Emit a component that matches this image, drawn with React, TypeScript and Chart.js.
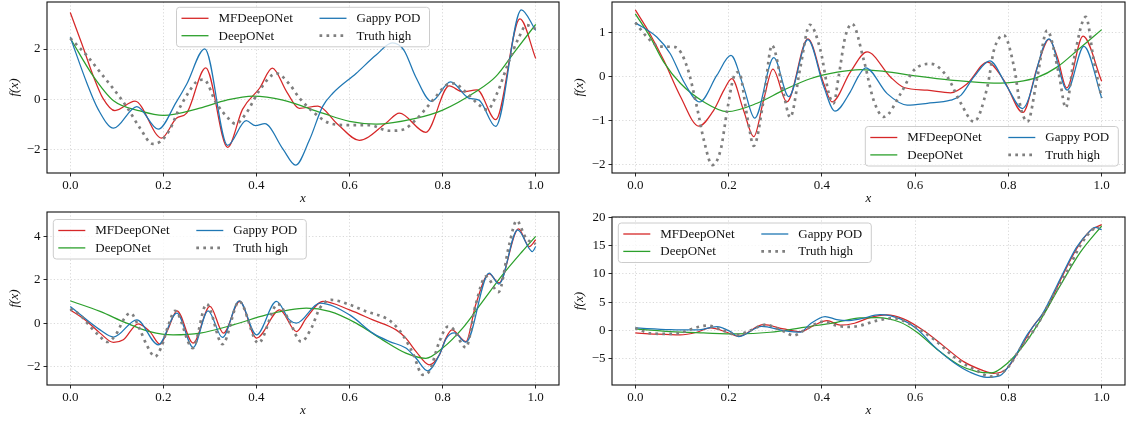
import React, { useEffect, useRef } from 'react';
import { Chart, registerables } from 'chart.js';

Chart.register(...registerables);

// ---------- data (x, f(x)) ----------
const xTickValues = [0, 0.2, 0.4, 0.6, 0.8, 1.0];
const seriesLabels = ['MFDeepONet', 'DeepONet', 'Gappy POD', 'Truth high'];

// Panel 1 (top-left)
const p1Mf = [[0,3.45],[0.025,2.2],[0.05,0.9],[0.07,0.05],[0.096,-0.45],[0.139,-0.07],[0.196,-1.54],[0.228,-0.75],[0.25,-0.55],[0.291,1.25],[0.338,-1.91],[0.37,-0.4],[0.407,0.45],[0.434,1.24],[0.465,0.3],[0.492,-0.36],[0.532,-0.27],[0.575,-1.0],[0.621,-1.63],[0.678,-0.95],[0.707,-0.55],[0.764,-1.31],[0.814,0.53],[0.843,0.3],[0.874,0.38],[0.914,-0.81],[0.966,3.2],[1.0,1.62]];
const p1Deep = [[0,2.43],[0.05,0.9],[0.093,-0.06],[0.15,-0.46],[0.2,-0.64],[0.278,-0.35],[0.336,-0.03],[0.393,0.13],[0.457,-0.03],[0.542,-0.55],[0.6,-0.88],[0.657,-0.99],[0.742,-0.76],[0.8,-0.43],[0.871,0.3],[0.914,0.9],[0.957,1.95],[1.0,2.98]];
const p1Gappy = [[0,2.47],[0.036,0.63],[0.06,-0.4],[0.093,-1.15],[0.143,-0.29],[0.189,-1.19],[0.228,-0.1],[0.25,0.6],[0.289,2.01],[0.338,-1.83],[0.378,-0.85],[0.398,-1.05],[0.418,-0.97],[0.457,-1.98],[0.484,-2.62],[0.514,-1.61],[0.542,-0.29],[0.564,0.24],[0.614,1.03],[0.657,1.76],[0.692,2.24],[0.717,1.95],[0.742,0.9],[0.776,-0.08],[0.817,0.69],[0.857,0.04],[0.878,-0.03],[0.914,-1.08],[0.969,3.56],[1.0,2.74]];
const p1Truth = [[0,2.43],[0.036,1.73],[0.064,1.08],[0.093,0.41],[0.121,-0.29],[0.15,-1.15],[0.177,-1.77],[0.193,-1.68],[0.214,-1.2],[0.232,-0.45],[0.255,0.3],[0.271,0.7],[0.287,0.78],[0.314,-0.16],[0.343,-0.82],[0.355,-0.98],[0.378,-0.55],[0.407,0.37],[0.443,1.03],[0.471,0.6],[0.492,0.06],[0.528,-0.6],[0.557,-0.95],[0.6,-1.03],[0.643,-1.03],[0.685,-1.25],[0.714,-1.21],[0.742,-0.82],[0.764,-0.37],[0.785,0.1],[0.807,0.55],[0.824,0.63],[0.849,0.3],[0.878,-0.22],[0.896,-0.42],[0.917,0.24],[0.942,1.49],[0.964,2.47],[0.98,2.95],[1.0,2.8]];

// Panel 2 (top-right)
const p2Mf = [[0,1.52],[0.03,1.0],[0.061,0.37],[0.097,-0.46],[0.136,-1.13],[0.168,-0.77],[0.19,-0.31],[0.207,-0.05],[0.232,-0.77],[0.254,-1.37],[0.275,-0.54],[0.295,0.17],[0.325,-0.58],[0.37,0.86],[0.404,-0.16],[0.422,-0.58],[0.461,0.1],[0.497,0.56],[0.547,-0.01],[0.576,-0.25],[0.626,-0.31],[0.676,-0.37],[0.712,-0.16],[0.755,0.33],[0.79,-0.08],[0.831,-0.82],[0.862,0.22],[0.887,0.85],[0.905,0.44],[0.925,-0.26],[0.96,0.92],[1.0,-0.11]];
const p2Deep = [[0,1.43],[0.032,0.9],[0.061,0.33],[0.097,-0.16],[0.147,-0.58],[0.197,-0.8],[0.261,-0.61],[0.318,-0.31],[0.375,-0.05],[0.433,0.1],[0.483,0.16],[0.533,0.12],[0.605,0.01],[0.676,-0.08],[0.769,-0.15],[0.819,-0.12],[0.862,-0.02],[0.905,0.22],[0.948,0.6],[1.0,1.07]];
const p2Gappy = [[0,1.23],[0.046,0.9],[0.075,0.52],[0.104,-0.12],[0.138,-0.58],[0.175,0.03],[0.205,0.48],[0.232,-0.23],[0.256,-0.95],[0.297,0.43],[0.329,-0.46],[0.37,0.84],[0.404,-0.23],[0.428,-0.79],[0.461,-0.35],[0.478,0.0],[0.494,0.2],[0.54,-0.39],[0.583,-0.65],[0.626,-0.61],[0.676,-0.54],[0.698,-0.43],[0.726,-0.01],[0.76,0.36],[0.797,-0.23],[0.83,-0.73],[0.887,0.86],[0.926,-0.31],[0.962,0.69],[1.0,-0.49]];
const p2Truth = [[0,1.23],[0.025,0.9],[0.046,0.71],[0.068,0.68],[0.086,0.67],[0.111,0.22],[0.132,-0.69],[0.147,-1.45],[0.165,-2.02],[0.183,-1.67],[0.197,-0.77],[0.211,-0.01],[0.222,0.1],[0.24,-0.92],[0.254,-1.58],[0.275,-0.54],[0.293,0.71],[0.318,-0.39],[0.332,-0.93],[0.354,0.22],[0.374,1.18],[0.397,0.6],[0.415,-0.39],[0.425,-0.61],[0.436,0.0],[0.45,0.9],[0.465,1.2],[0.49,0.37],[0.511,-0.54],[0.533,-0.92],[0.569,-0.39],[0.597,0.14],[0.633,0.29],[0.669,-0.01],[0.698,-0.61],[0.726,-1.03],[0.755,-0.23],[0.769,0.6],[0.79,0.94],[0.812,0.22],[0.826,-0.69],[0.841,-1.03],[0.862,-0.01],[0.883,1.05],[0.908,0.07],[0.923,-0.71],[0.94,0.37],[0.966,1.36],[0.983,0.37],[1.0,-0.49]];

// Panel 3 (bottom-left)
const p3Mf = [[0,0.61],[0.036,0.08],[0.064,-0.46],[0.093,-0.89],[0.114,-0.77],[0.146,-0.03],[0.171,-0.39],[0.193,-0.97],[0.211,-0.23],[0.229,0.57],[0.264,-0.92],[0.3,0.77],[0.329,-0.46],[0.364,1.0],[0.4,-0.69],[0.45,0.61],[0.486,-0.39],[0.507,0.23],[0.543,1.0],[0.6,0.61],[0.65,0.15],[0.7,-0.31],[0.721,-0.69],[0.743,-1.31],[0.771,-1.92],[0.793,-1.46],[0.807,-0.69],[0.82,-0.31],[0.85,-0.85],[0.871,0.85],[0.9,2.27],[0.921,1.85],[0.963,4.34],[0.986,3.53],[1.0,3.84]];
const p3Deep = [[0,1.03],[0.064,0.54],[0.121,0.0],[0.171,-0.39],[0.221,-0.54],[0.279,-0.46],[0.35,-0.08],[0.421,0.38],[0.471,0.61],[0.507,0.69],[0.557,0.54],[0.614,0.0],[0.671,-0.77],[0.721,-1.38],[0.764,-1.62],[0.8,-1.15],[0.843,-0.23],[0.886,1.0],[0.929,2.23],[0.971,3.3],[1.0,4.0]];
const p3Gappy = [[0,0.77],[0.064,-0.31],[0.093,-0.64],[0.143,0.15],[0.189,-1.0],[0.229,0.46],[0.264,-1.12],[0.296,0.57],[0.327,-0.66],[0.363,1.03],[0.4,-0.54],[0.443,1.0],[0.471,0.15],[0.486,0.0],[0.536,0.92],[0.6,0.38],[0.65,-0.46],[0.686,-0.85],[0.721,-1.15],[0.743,-1.62],[0.768,-2.2],[0.793,-1.46],[0.808,-0.7],[0.825,-0.45],[0.85,-0.88],[0.9,2.3],[0.921,1.8],[0.961,4.3],[0.993,3.3],[1.0,3.53]];
const p3Truth = [[0,0.66],[0.021,0.38],[0.043,-0.16],[0.064,-0.62],[0.079,-0.87],[0.1,-0.46],[0.114,0.15],[0.129,0.46],[0.15,-0.31],[0.164,-1.0],[0.182,-1.54],[0.196,-1.08],[0.211,-0.08],[0.225,0.57],[0.263,-1.15],[0.293,0.88],[0.327,-0.97],[0.363,1.0],[0.404,-0.92],[0.446,0.88],[0.471,0.08],[0.496,-0.85],[0.518,-0.23],[0.536,0.69],[0.561,1.07],[0.6,0.85],[0.636,0.54],[0.678,0.23],[0.693,0.0],[0.714,-0.54],[0.736,-1.38],[0.757,-2.38],[0.771,-2.23],[0.793,-0.85],[0.811,-0.16],[0.821,-0.23],[0.85,-1.12],[0.871,0.85],[0.893,2.15],[0.92,1.43],[0.943,3.61],[0.959,4.72],[0.979,3.92],[1.0,3.64]];

// Panel 4 (bottom-right)
const p4Mf = [[0,-0.41],[0.04,-0.6],[0.096,-0.76],[0.132,-0.29],[0.161,0.47],[0.196,-0.29],[0.221,-1.0],[0.275,1.06],[0.318,0.29],[0.354,-0.18],[0.382,0.88],[0.411,1.76],[0.44,0.95],[0.47,1.3],[0.503,2.3],[0.539,2.76],[0.575,2.06],[0.618,0.0],[0.66,-2.65],[0.704,-5.47],[0.746,-7.05],[0.768,-7.53],[0.796,-6.76],[0.825,-3.23],[0.854,0.88],[0.882,3.82],[0.911,8.82],[0.946,14.4],[0.975,17.6],[1.0,18.7]];
const p4Deep = [[0,0.29],[0.075,-0.18],[0.146,-0.41],[0.218,-0.59],[0.289,-0.29],[0.361,0.59],[0.432,1.47],[0.482,2.23],[0.518,2.3],[0.568,1.47],[0.604,-0.29],[0.646,-3.23],[0.696,-6.17],[0.732,-7.23],[0.764,-7.47],[0.796,-5.88],[0.832,-2.65],[0.868,1.76],[0.911,7.94],[0.954,13.8],[1.0,18.5]];
const p4Gappy = [[0,0.47],[0.075,0.18],[0.132,0.12],[0.175,0.7],[0.204,-0.18],[0.221,-1.06],[0.271,0.76],[0.318,0.0],[0.354,-0.29],[0.375,1.18],[0.407,2.47],[0.432,1.94],[0.454,1.76],[0.482,2.06],[0.525,2.82],[0.568,2.06],[0.604,0.29],[0.639,-2.65],[0.682,-5.59],[0.718,-7.35],[0.754,-8.24],[0.782,-7.94],[0.811,-5.0],[0.839,-0.88],[0.875,3.23],[0.911,9.1],[0.946,14.7],[0.975,17.6],[0.986,18.2],[1.0,17.8]];
const p4Truth = [[0,0.47],[0.032,-0.47],[0.068,-0.59],[0.096,-0.41],[0.125,0.41],[0.154,0.88],[0.189,0.0],[0.218,-0.76],[0.246,0.0],[0.279,1.06],[0.307,0.29],[0.325,-0.41],[0.339,-0.88],[0.361,0.0],[0.386,1.18],[0.404,1.59],[0.432,0.88],[0.461,0.65],[0.482,0.88],[0.518,1.76],[0.554,2.18],[0.589,1.18],[0.639,-1.47],[0.689,-5.0],[0.732,-7.05],[0.761,-8.1],[0.796,-6.76],[0.825,-3.23],[0.861,0.88],[0.896,6.17],[0.925,10.3],[0.954,15.0],[0.982,17.9],[0.995,18.2]];

const p1YTicks = [-2, 0, 2];
const p2YTicks = [-2, -1, 0, 1];
const p3YTicks = [-2, 0, 2, 4];
const p4YTicks = [-5, 0, 5, 10, 15, 20];

// ---------- styling ----------
const RED = '#d62728';
const GREEN = '#2ca02c';
const BLUE = '#1f77b4';
const GRAY = '#7f7f7f';
const FONT = 'Liberation Serif';
const TEXT = '#111111';

type PanelDef = {
  left: number; top: number; w: number; h: number;
  padTop: number; padRight: number; hx: number;
  ymin: number; ymax: number; yticks: number[];
  mf: number[][]; deep: number[][]; gappy: number[][]; truth: number[][];
  legend: { loc: 'uc' | 'lr' | 'ul'; dx: number; dy: number };
};

const panels: PanelDef[] = [
  { left: 0, top: 0, w: 563, h: 206, padTop: 2, padRight: 4, hx: 33, ymin: -2.93, ymax: 3.87, yticks: p1YTicks,
    mf: p1Mf, deep: p1Deep, gappy: p1Gappy, truth: p1Truth, legend: { loc: 'uc', dx: 0, dy: 5.3 } },
  { left: 565, top: 0, w: 561, h: 206, padTop: 2, padRight: 1, hx: 33, ymin: -2.2, ymax: 1.7, yticks: p2YTicks,
    mf: p2Mf, deep: p2Deep, gappy: p2Gappy, truth: p2Truth, legend: { loc: 'lr', dx: 6.7, dy: 7 } },
  { left: 0, top: 205, w: 563, h: 213, padTop: 7, padRight: 4, hx: 33, ymin: -2.85, ymax: 5.12, yticks: p3YTicks,
    mf: p3Mf, deep: p3Deep, gappy: p3Gappy, truth: p3Truth, legend: { loc: 'ul', dx: 6.3, dy: 7.5 } },
  { left: 565, top: 205, w: 561, h: 213, padTop: 12, padRight: 1, hx: 33, ymin: -9.6, ymax: 20.05, yticks: p4YTicks,
    mf: p4Mf, deep: p4Deep, gappy: p4Gappy, truth: p4Truth, legend: { loc: 'ul', dx: 6.3, dy: 6 } },
];

const fmtMinus = (v: number) => (v < 0 ? '\u2212' + String(Math.abs(v)) : String(v));

const legendEntries = [
  { label: seriesLabels[0], color: RED, lw: 1.3, dash: [] as number[], col: 0, row: 0 },
  { label: seriesLabels[1], color: GREEN, lw: 1.3, dash: [] as number[], col: 0, row: 1 },
  { label: seriesLabels[2], color: BLUE, lw: 1.3, dash: [] as number[], col: 1, row: 0 },
  { label: seriesLabels[3], color: GRAY, lw: 2.7, dash: [2.7, 4.3], col: 1, row: 1 },
];

const framePlugin = {
  id: 'frame',
  afterDatasetsDraw(chart: any) {
    const { ctx, chartArea: a } = chart;
    ctx.save();
    ctx.strokeStyle = '#111';
    ctx.lineWidth = 1.1;
    ctx.strokeRect(a.left, a.top, a.right - a.left, a.bottom - a.top);
    ctx.restore();
  },
};

const legendPlugin = {
  id: 'mplLegend',
  afterDraw(chart: any, _args: any, opts: any) {
    const { ctx, chartArea: a } = chart;
    const w = 253, h = 39.5;
    let bx = 0, by = 0;
    if (opts.loc === 'uc') { bx = (a.left + a.right) / 2 - w / 2 + opts.dx; by = a.top + opts.dy; }
    else if (opts.loc === 'lr') { bx = a.right - opts.dx - w; by = a.bottom - opts.dy - h; }
    else { bx = a.left + opts.dx; by = a.top + opts.dy; }
    ctx.save();
    ctx.beginPath();
    (ctx as any).roundRect(bx, by, w, h, 3);
    ctx.fillStyle = 'rgba(255,255,255,0.8)';
    ctx.fill();
    ctx.strokeStyle = '#cccccc';
    ctx.lineWidth = 1;
    ctx.stroke();
    ctx.font = `13px "${FONT}"`;
    ctx.textBaseline = 'middle';
    ctx.textAlign = 'left';
    for (const e of legendEntries) {
      const lx = bx + (e.col === 0 ? 5 : 143);
      const ly = by + (e.row === 0 ? 11 : 28.4);
      ctx.beginPath();
      ctx.setLineDash(e.dash);
      ctx.lineWidth = e.lw;
      ctx.lineCap = 'butt';
      ctx.strokeStyle = e.color;
      ctx.moveTo(lx, ly);
      ctx.lineTo(lx + 27, ly);
      ctx.stroke();
      ctx.setLineDash([]);
      ctx.fillStyle = TEXT;
      ctx.fillText(e.label, lx + 37, ly + 0.5);
    }
    ctx.restore();
  },
};

const toPts = (arr: number[][]) => arr.map(([x, y]) => ({ x, y }));

function makeConfig(p: PanelDef): any {
  const lineDs = (label: string, data: number[][], color: string, order: number) => ({
    label, data: toPts(data), borderColor: color, backgroundColor: color, borderWidth: 1.25,
    pointRadius: 0, pointHoverRadius: 0, fill: false, cubicInterpolationMode: 'monotone', order,
  });
  return {
    type: 'line',
    data: {
      datasets: [
        lineDs(seriesLabels[0], p.mf, RED, 3),
        lineDs(seriesLabels[1], p.deep, GREEN, 2),
        lineDs(seriesLabels[2], p.gappy, BLUE, 1),
        {
          label: seriesLabels[3], data: toPts(p.truth), borderColor: GRAY, backgroundColor: GRAY,
          borderWidth: 2.7, borderDash: [2.7, 4.3], borderCapStyle: 'butt', pointRadius: 0, pointHoverRadius: 0,
          fill: false, cubicInterpolationMode: 'monotone', order: 0,
        },
      ],
    },
    options: {
      animation: false,
      responsive: false,
      maintainAspectRatio: false,
      events: [],
      layout: { padding: { top: p.padTop, right: p.padRight, left: 0, bottom: 0 } },
      plugins: {
        legend: { display: false },
        tooltip: { enabled: false },
        mplLegend: p.legend,
      },
      scales: {
        x: {
          type: 'linear', min: -0.05, max: 1.05,
          afterBuildTicks: (s: any) => { s.ticks = xTickValues.map((v) => ({ value: v })); },
          afterFit: (s: any) => { s.height = p.hx; s.paddingLeft = 0; s.paddingRight = 0; },
          ticks: { callback: (v: any) => Number(v).toFixed(1), font: { family: FONT, size: 13 }, color: TEXT, padding: 1, maxRotation: 0, autoSkip: false },
          grid: { color: '#cfcfcf', lineWidth: 0.8, tickLength: 3.5, tickColor: '#111', tickWidth: 0.9, tickBorderDash: [] },
          border: { display: false, dash: [1.2, 2.2] },
          title: { display: true, text: 'x', font: { family: FONT, size: 13, style: 'italic' }, color: TEXT, padding: { top: 0, bottom: 0 } },
        },
        y: {
          type: 'linear', min: p.ymin, max: p.ymax,
          afterBuildTicks: (s: any) => { s.ticks = p.yticks.map((v) => ({ value: v })); },
          afterFit: (s: any) => { s.width = 47; s.paddingTop = 0; s.paddingBottom = 0; },
          ticks: { callback: (v: any) => fmtMinus(Number(v)), font: { family: FONT, size: 13 }, color: TEXT, padding: 3, autoSkip: false },
          grid: { color: '#cfcfcf', lineWidth: 0.8, tickLength: 3.5, tickColor: '#111', tickWidth: 0.9, tickBorderDash: [] },
          border: { display: false, dash: [1.2, 2.2] },
          title: { display: true, text: 'f(x)', font: { family: FONT, size: 13, style: 'italic' }, color: TEXT, padding: { top: 7, bottom: 0 } },
        },
      },
    },
    plugins: [framePlugin, legendPlugin],
  };
}

function Panel({ p }: { p: PanelDef }) {
  const ref = useRef<HTMLCanvasElement>(null);
  useEffect(() => {
    const chart = new Chart(ref.current as HTMLCanvasElement, makeConfig(p));
    return () => chart.destroy();
  }, [p]);
  return (
    <div style={{ position: 'absolute', left: p.left, top: p.top, width: p.w, height: p.h }}>
      <canvas ref={ref} width={p.w} height={p.h} style={{ width: p.w, height: p.h, display: 'block' }} />
    </div>
  );
}

export default function App() {
  return (
    <div style={{ position: 'fixed', left: 0, top: 0, width: 1126, height: 421, background: '#fff', overflow: 'hidden' }}>
      {panels.map((p, i) => <Panel key={i} p={p} />)}
    </div>
  );
}
